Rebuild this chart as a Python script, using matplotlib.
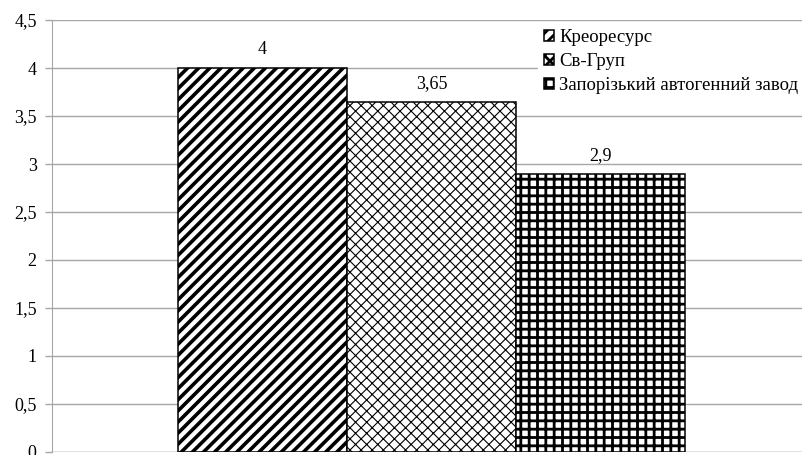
import matplotlib
matplotlib.use("Agg")
import matplotlib.pyplot as plt
from matplotlib.ticker import FixedLocator

companies = ["Креоресурс", "Св-Груп", "Запорізький автогенний завод"]
values = [4.0, 3.65, 2.9]
value_labels = ["4", "3,65", "2,9"]
yticks = [0, 0.5, 1, 1.5, 2, 2.5, 3, 3.5, 4, 4.5]
ytick_labels = ["0", "0,5", "1", "1,5", "2", "2,5", "3", "3,5", "4", "4,5"]

hatches = ["///", "xxx", "++"]
hatch_lw = [2.6, 0.8, 2.0]

plt.rcParams['font.family'] = ['Liberation Serif', 'DejaVu Serif']

fig = plt.figure(figsize=(8.03, 4.55), dpi=100)
ax = fig.add_axes([52/803, 1 - 452/455, 1 - 52/803, (452 - 20)/455])

positions = [-1, 0, 1]
for pos, v, h, lw, name in zip(positions, values, hatches, hatch_lw, companies):
    plt.rcParams['hatch.linewidth'] = lw
    ax.bar(pos, v, width=1.0, color='white', edgecolor='black',
           linewidth=1.1, hatch=h, label=name, zorder=3)

for pos, v, lab in zip(positions, values, value_labels):
    ax.text(pos, v + 0.19, lab, ha='center', va='center', fontsize=13, zorder=4)

ax.set_ylim(0, 4.5)
ax.set_xlim(-2.2456, 2.198)
ax.yaxis.set_major_locator(FixedLocator(yticks))
ax.set_yticklabels(ytick_labels, fontsize=13)
ax.set_xticks([])
ax.grid(axis='y', color='#a6a6a6', linewidth=1.0, zorder=0)
for s in ['top', 'right', 'bottom']:
    ax.spines[s].set_visible(False)
ax.spines['left'].set_color('#a6a6a6')
ax.axhline(0, color='#a6a6a6', linewidth=1.0, zorder=1)
ax.tick_params(axis='y', color='#a6a6a6', length=5, width=1.0, pad=6)

leg = ax.legend(loc='upper right', bbox_to_anchor=(1.006, 1.0), frameon=True,
                fontsize=13.5, handlelength=0.55, handleheight=0.55,
                handletextpad=0.25, labelspacing=0.36, borderaxespad=0.2,
                borderpad=0.3)
leg.get_frame().set_edgecolor('white')
leg.get_frame().set_facecolor('white')
leg.get_frame().set_alpha(1.0)
leg.set_zorder(5)

fig.savefig("out.png", dpi=100)
